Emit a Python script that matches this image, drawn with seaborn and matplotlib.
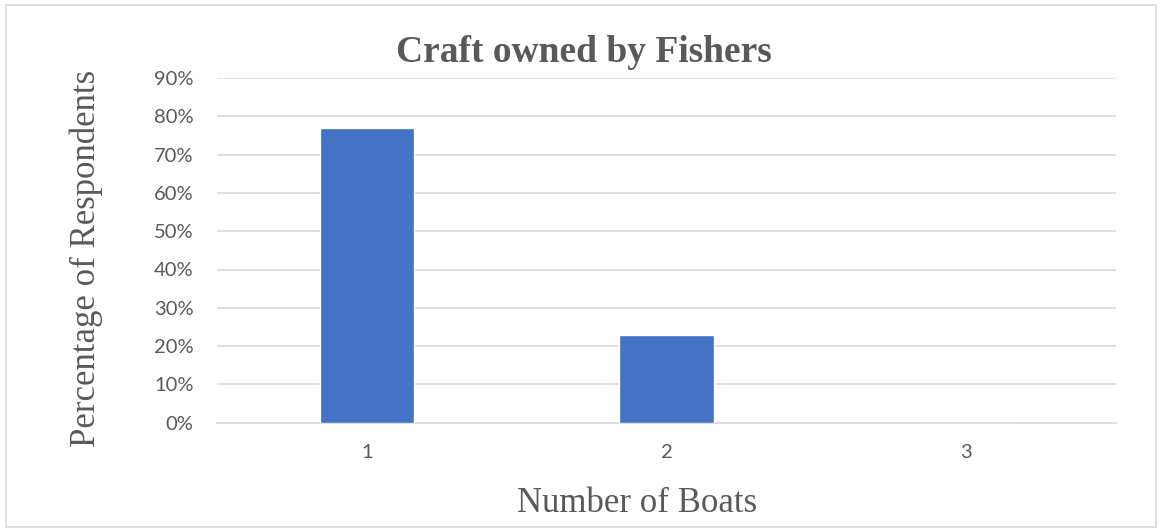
import matplotlib
matplotlib.use("Agg")
import matplotlib.pyplot as plt
import seaborn as sns
import pandas as pd
from matplotlib.ticker import PercentFormatter
from matplotlib.patches import Rectangle

boats = ["1", "2", "3"]
percent = [0.77, 0.23, 0.0]
yticks = [0.0, 0.1, 0.2, 0.3, 0.4, 0.5, 0.6, 0.7, 0.8, 0.9]

sns.set_theme(style="white")
plt.rcParams['font.family'] = ['Lato', 'DejaVu Sans']

df = pd.DataFrame({"Number of Boats": boats, "Percentage": percent})

fig = plt.figure(figsize=(11.61, 5.32), dpi=100)
ax = fig.add_axes([217/1161, 1-422.7/532, (1116-217)/1161, (422.7-78)/532])

sns.barplot(data=df, x="Number of Boats", y="Percentage", color="#4472C4",
            width=0.315, ax=ax, zorder=3, saturation=1)

ax.set_ylim(0, 0.9)
ax.set_xlim(-0.5, 2.5)
ax.set_yticks(yticks)
ax.yaxis.set_major_formatter(PercentFormatter(1.0, decimals=0))
ax.grid(axis="y", color="#D9D9D9", linewidth=1.2, zorder=0)
ax.set_axisbelow(True)
for s in ["top", "right", "left"]:
    ax.spines[s].set_visible(False)
ax.spines["bottom"].set_color("#D9D9D9")
ax.spines["bottom"].set_linewidth(1.2)
ax.tick_params(axis="both", length=0, labelsize=14.5, colors="#595959")
ax.tick_params(axis="y", pad=17)
ax.tick_params(axis="x", pad=15)

ax.set_xlabel("")
ax.set_ylabel("")
fig.text(584/1161, 1-52/532, "Craft owned by Fishers",
         ha="center", va="center", fontsize=27, fontweight="bold",
         family="Liberation Serif", color="#595959")
fig.text(86/1161, 1-258/532, "Percentage of Respondents", rotation=90,
         ha="center", va="center", fontsize=25, family="Liberation Serif",
         color="#595959")
fig.text(637/1161, 1-503/532, "Number of Boats", ha="center", va="center",
         fontsize=25, family="Liberation Serif", color="#595959")

fig.patches.append(Rectangle((6/1161, 5/532), (1156-6)/1161, (527-5)/532,
                             transform=fig.transFigure, fill=False,
                             edgecolor="#D9D9D9", linewidth=1.2))

fig.savefig("out.png", dpi=100, facecolor="white")
